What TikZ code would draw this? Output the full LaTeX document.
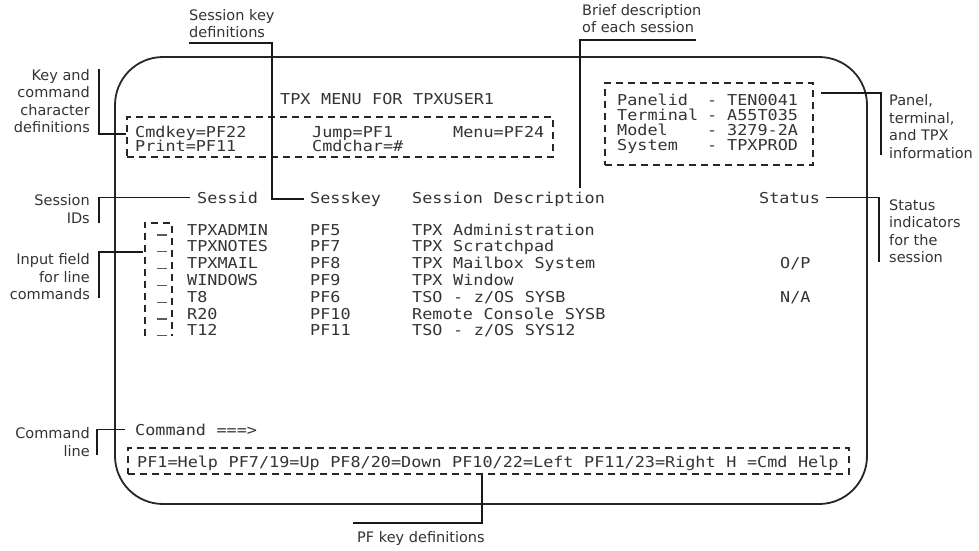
\documentclass[tikz,border=0pt]{standalone}
\usepackage{fontspec}
\setmainfont{DejaVu Sans}
\newfontfamily\termfont[FakeStretch=1.12, WordSpace={1.05,0,0}]{DejaVu Sans Mono}
\usepackage{tikz}

\tikzset{
    term/.style={font=\termfont\fontsize{15}{15}\selectfont, text=black!80, inner sep=0pt, anchor=base west},
    lbl/.style={font=\fontsize{14.5}{17.5}\selectfont, text=black!80, inner sep=0pt},
    leader/.style={line width=1.5pt, black!90},
    dbox/.style={draw=black!85, line width=1.5pt, dash pattern=on 7pt off 5pt, inner sep=0pt},
    screen/.style={draw=black!85, line width=1.8pt, rounded corners=48pt, inner sep=0pt}
}

\begin{document}
\begin{tikzpicture}[x=1pt, y=-1pt]

    % Page
    \useasboundingbox (0,0) rectangle (979,550);

    % Row layout of the session list
    \def\rowa{235}   % baseline of first session
    \def\rowd{16.8}  % row pitch

    % Terminal outline
    \node[screen, minimum width=752pt, minimum height=447pt] (scr) at (491,280.5) {};

    % Title and key definitions
    \node[term] (title) at (280,104) {TPX MENU FOR TPXUSER1};
    \node[dbox, minimum width=426pt, minimum height=40pt] (keybox) at (340,137) {};
    \node[term] (cmdkey)  at (135,137) {Cmdkey=PF22};
    \node[term] (jump)    at (312,137) {Jump=PF1};
    \node[term] (menu)    at (453,137) {Menu=PF24};
    \node[term] (print)   at (135,151) {Print=PF11};
    \node[term] (cmdchar) at (312,151) {Cmdchar=\#};

    % Panel information
    \node[dbox, minimum width=208pt, minimum height=82pt] (panelbox) at (709,124) {};
    \foreach \k/\v [count=\i] in {Panelid/TEN0041, Terminal/A55T035, Model/3279-2A, System/TPXPROD}{
        \node[term] (pk\i) at (617,{90+15*\i}) {\k};
        \node[term] (pd\i) at (707,{90+15*\i}) {-};
        \node[term] (pv\i) at (727,{90+15*\i}) {\v};
    }

    % Column headings
    \node[term] (hsid)  at (197,203) {Sessid};
    \node[term] (hkey)  at (310,203) {Sesskey};
    \node[term] (hdesc) at (412,203) {Session Description};
    \node[term] (hstat) at (759,203) {Status};

    % Sessions
    \node[minimum width=27pt, minimum height=113pt, inner sep=0pt] (field) at (158.5,279.5) {};
    \draw[dbox] (field.south west) -- (field.north west) -- (field.north east) -- (field.south east);
    \foreach \n/\k/\d [count=\i] in {TPXADMIN/PF5/TPX Administration, TPXNOTES/PF7/TPX Scratchpad,
        TPXMAIL/PF8/TPX Mailbox System, WINDOWS/PF9/TPX Window, T8/PF6/{TSO - z/OS SYSB},
        R20/PF10/Remote Console SYSB, T12/PF11/{TSO - z/OS SYS12}}{
        \draw[line width=1.3pt, black!65] (157,{\rowa+\rowd*(\i-1)}) -- (167,{\rowa+\rowd*(\i-1)});
        \node[term] (sess\i)  at (187,{\rowa+\rowd*(\i-1)}) {\n};
        \node[term] (skey\i)  at (310,{\rowa+\rowd*(\i-1)}) {\k};
        \node[term] (sdesc\i) at (412,{\rowa+\rowd*(\i-1)}) {\d};
    }
    \node[term] (st3) at (780,{\rowa+\rowd*2}) {O/P};
    \node[term] (st5) at (780,{\rowa+\rowd*4}) {N/A};

    % Command line and PF keys
    \node[term] (cmdline) at (135,435) {Command ===>};
    \node[dbox, minimum width=721pt, minimum height=26pt] (pfbox) at (488.5,461) {};
    \node[term] (pfkeys) at (137,467) {PF1=Help PF7/19=Up PF8/20=Down PF10/22=Left PF11/23=Right H =Cmd Help};

    % Labels
    \node[lbl, align=right, anchor=north east] (keylbl)  at (90,69)  {Key and\\command\\character\\definitions};
    \node[lbl, align=left,  anchor=north west] (sklbl)   at (189,9)  {Session key\\definitions};
    \node[lbl, align=left,  anchor=north west] (brflbl)  at (582,4)  {Brief description\\of each session};
    \node[lbl, align=right, anchor=north east] (sidlbl)  at (90,194.5) {Session\\IDs};
    \node[lbl, align=right, anchor=north east] (inlbl)   at (90,253.5) {Input field\\for line\\commands};
    \node[lbl, align=right, anchor=north east] (cmdlbl)  at (90,427.5) {Command\\line};
    \node[lbl, anchor=north west] (pflbl)   at (357,531.5) {PF key definitions};
    \node[lbl, align=left, anchor=north west] (panlbl)  at (889,94.5) {Panel,\\terminal,\\and TPX\\information};
    \node[lbl, align=left, anchor=north west] (statlbl) at (889,199.5) {Status\\indicators\\for the\\session};

    % Leader ends
    \coordinate (keyfoot)  at (99,69);
    \coordinate (skfoot)   at (189,43);
    \coordinate (brffoot)  at (696,40);
    \coordinate (sidfoot)  at (99,223);
    \coordinate (infoot)   at (99,298);
    \coordinate (cmdfoot)  at (97,455);
    \coordinate (pffoot)   at (353,523);
    \coordinate (panfoot)  at (881,155);
    \coordinate (statfoot) at (879,262);

    % Leaders
    \draw[leader] (keyfoot) |- (keybox.west |- 0,134);
    \draw[leader, shorten >=6pt] (skfoot) -- (272,43) |- (hkey.west);
    \draw[leader] (brffoot) -- (580,40) -- (580,188);
    \draw[leader, shorten >=7pt] (sidfoot) |- (hsid.west);
    \draw[leader, shorten >=2pt] (infoot) |- (field.west |- 0,252);
    \draw[leader, shorten >=10pt] (cmdfoot) |- (cmdline.west);
    \draw[leader] (pffoot) -| (pfbox.south -| 482,0);
    \draw[leader, shorten >=7pt] (panfoot) |- (panelbox.east |- 0,93);
    \draw[leader, shorten >=6pt] (statfoot) |- (hstat.east);

\end{tikzpicture}
\end{document}
